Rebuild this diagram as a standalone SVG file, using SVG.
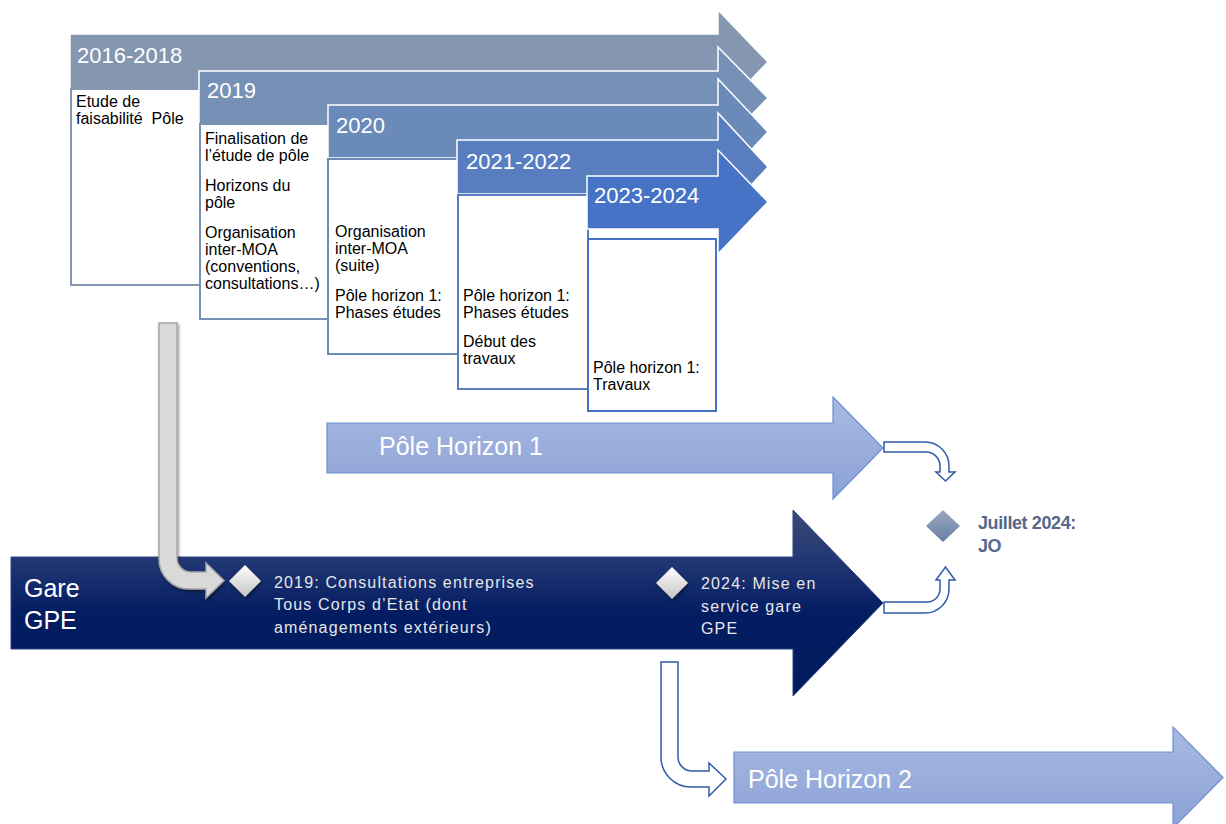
<svg xmlns="http://www.w3.org/2000/svg" width="1226" height="824" viewBox="0 0 1226 824">
  <defs>
    <style>
      text { font-family: "Liberation Sans", Arial, sans-serif; }
      .hdr { fill: #ffffff; font-size: 22px; }
      .box { fill: #ffffff; stroke-width: 2; }
      .bt { fill: #000000; font-size: 16px; }
      .arrow { stroke: #ffffff; stroke-width: 1.5; stroke-linejoin: miter; }
      .big { fill: #ffffff; font-size: 25px; }
      .gpe { fill: #e6e6e6; font-size: 16px; letter-spacing: 1.15px; }
      .outline { fill: #ffffff; stroke: #2f5ba8; stroke-width: 1.5; }
      .jo { fill: #56688a; font-size: 18px; font-weight: bold; letter-spacing: -0.4px; }
    </style>
    <linearGradient id="gLight" x1="0" y1="0" x2="0" y2="1">
      <stop offset="0" stop-color="#a9b9e1"/>
      <stop offset="1" stop-color="#8ba2d7"/>
    </linearGradient>
    <linearGradient id="gNavy" x1="0" y1="0" x2="0" y2="1">
      <stop offset="0" stop-color="#3b4a77"/>
      <stop offset="0.3" stop-color="#1f3572"/>
      <stop offset="0.55" stop-color="#041d62"/>
      <stop offset="1" stop-color="#001b5e"/>
    </linearGradient>
    <linearGradient id="gWhiteDia" x1="0" y1="0" x2="0" y2="1">
      <stop offset="0" stop-color="#ffffff"/>
      <stop offset="1" stop-color="#c4c4c4"/>
    </linearGradient>
    <linearGradient id="gJoDia" x1="0" y1="0" x2="0" y2="1">
      <stop offset="0" stop-color="#99a8c2"/>
      <stop offset="1" stop-color="#687da1"/>
    </linearGradient>
    <filter id="shadow" x="-40%" y="-40%" width="180%" height="180%">
      <feDropShadow dx="1" dy="2" stdDeviation="1.5" flood-color="#000000" flood-opacity="0.45"/>
    </filter>
  </defs>

  <!-- Phase 2016-2018 -->
  <g id="phase-2016-2018">
    <path class="arrow" fill="#8496b0" d="M70,34 H718 V10 L768,62 L718,114 V89 H70 Z"/>
    <text class="hdr" x="77" y="63">2016-2018</text>
    <rect class="box" stroke="#8496b0" x="71" y="89" width="129" height="196"/>
    <text class="bt" x="76" y="107">Etude de</text>
    <text class="bt" x="76" y="124" style="white-space:pre">faisabilité  Pôle</text>
  </g>

  <!-- Phase 2019 -->
  <g id="phase-2019">
    <path class="arrow" fill="#7791b6" d="M199,71 H718 V47 L768,98 L718,149 V124 H199 Z"/>
    <text class="hdr" x="207" y="98">2019</text>
    <rect class="box" stroke="#7791b6" x="200" y="124" width="129" height="195"/>
    <text class="bt" x="205" y="144">Finalisation de</text>
    <text class="bt" x="205" y="161">l’étude de pôle</text>
    <text class="bt" x="205" y="191">Horizons du</text>
    <text class="bt" x="205" y="208">pôle</text>
    <text class="bt" x="205" y="238">Organisation</text>
    <text class="bt" x="205" y="255">inter-MOA</text>
    <text class="bt" x="205" y="272">(conventions,</text>
    <text class="bt" x="205" y="289">consultations…)</text>
  </g>

  <!-- Phase 2020 -->
  <g id="phase-2020">
    <path class="arrow" fill="#6a8aba" d="M328,105 H718 V79 L768,132 L718,185 V158 H328 Z"/>
    <text class="hdr" x="336" y="133">2020</text>
    <rect class="box" stroke="#6a8aba" x="328" y="159" width="130" height="195"/>
    <text class="bt" x="335" y="237">Organisation</text>
    <text class="bt" x="335" y="254">inter-MOA</text>
    <text class="bt" x="335" y="271">(suite)</text>
    <text class="bt" x="335" y="301">Pôle horizon 1:</text>
    <text class="bt" x="335" y="318">Phases études</text>
  </g>

  <!-- Phase 2021-2022 -->
  <g id="phase-2021-2022">
    <path class="arrow" fill="#587ec0" d="M457,140 H718 V113 L768,167 L718,221 V194 H457 Z"/>
    <text class="hdr" x="466" y="169">2021-2022</text>
    <rect class="box" stroke="#587ec0" x="458" y="195" width="130" height="194"/>
    <text class="bt" x="463" y="301">Pôle horizon 1:</text>
    <text class="bt" x="463" y="318">Phases études</text>
    <text class="bt" x="463" y="347">Début des</text>
    <text class="bt" x="463" y="364">travaux</text>
  </g>

  <!-- Phase 2023-2024 -->
  <g id="phase-2023-2024">
    <path class="arrow" fill="#4673c6" d="M587,176 H718 V150 L768,202 L718,254 V229 H587 Z"/>
    <text class="hdr" x="594" y="203">2023-2024</text>
    <rect class="box" stroke="#4673c6" x="588" y="239" width="128" height="172"/>
    <text class="bt" x="593" y="373">Pôle horizon 1:</text>
    <text class="bt" x="593" y="390">Travaux</text>
  </g>

  <!-- Pôle Horizon 1 -->
  <g id="pole-horizon-1">
    <path fill="url(#gLight)" stroke="#6f8fd0" stroke-width="1.2" d="M327,423 H833 V397 L883,448 L833,499 V473 H327 Z"/>
    <text class="big" x="379" y="455">Pôle Horizon 1</text>
  </g>

  <!-- Gare GPE -->
  <g id="gare-gpe">
    <path fill="url(#gNavy)" stroke="#2c4583" stroke-width="1" d="M11,557 H793 V510 L883,603 L793,696 V649 H11 Z"/>
    <text class="big" x="24" y="597" fill="#eeeeee">Gare</text>
    <text class="big" x="24" y="629" fill="#eeeeee">GPE</text>
  </g>

  <!-- Milestone 2019 -->
  <g id="jalon-2019">
    <path fill="url(#gWhiteDia)" filter="url(#shadow)" d="M245,565 L261,581 L245,597 L229,581 Z"/>
    <text class="gpe" x="274" y="588">2019: Consultations entreprises</text>
    <text class="gpe" x="274" y="610">Tous Corps d’Etat (dont</text>
    <text class="gpe" x="274" y="633">aménagements extérieurs)</text>
  </g>

  <!-- Milestone 2024 -->
  <g id="jalon-2024">
    <path fill="url(#gWhiteDia)" filter="url(#shadow)" d="M672,567 L688,583 L672,599 L656,583 Z"/>
    <text class="gpe" x="701" y="589">2024: Mise en</text>
    <text class="gpe" x="701" y="612">service gare</text>
    <text class="gpe" x="701" y="634">GPE</text>
  </g>

  <!-- Milestone JO -->
  <g id="jalon-jo">
    <path fill="url(#gJoDia)" d="M943,510 L960,526 L943,542 L926,526 Z"/>
    <text class="jo" x="978" y="529">Juillet 2024:</text>
    <text class="jo" x="978" y="552">JO</text>
  </g>

  <!-- Pôle Horizon 2 -->
  <g id="pole-horizon-2">
    <path fill="url(#gLight)" stroke="#6f8fd0" stroke-width="1.2" d="M734,752 H1173 V727 L1223,777.5 L1173,828 V803 H734 Z"/>
    <text class="big" x="748" y="788">Pôle Horizon 2</text>
  </g>

  <!-- Connectors -->
  <g id="connectors">
    <!-- study phase feeding the 2019 consultation -->
    <path fill="#d9d9d9" stroke="#a6a6a6" stroke-width="1.5" filter="url(#shadow)"
          d="M159,323 H177 V558 A14,14 0 0 0 191,572 H206 V563 L224,580.5 L206,598 V589 H189 A30,30 0 0 1 159,559 Z"/>
    <!-- Pôle Horizon 1 towards JO -->
    <path class="outline" d="M884,442 H925 A24,24 0 0 1 949,466 V472 H955 L945.5,481 L936,472 H940 V466 A14,14 0 0 0 926,452 H884 Z"/>
    <!-- Gare GPE towards JO -->
    <path class="outline" d="M884,613 H925 A24,24 0 0 0 949,589 V580 H955 L945.5,567 L936,580 H940 V589 A13,13 0 0 1 927,602 H884 Z"/>
    <!-- Gare GPE towards Pôle Horizon 2 -->
    <path class="outline" d="M661,662 H678 V757 A14,14 0 0 0 692,771 H709 V763 L726,779 L709,796 V787 H691 A30,30 0 0 1 661,757 Z"/>
  </g>
</svg>
